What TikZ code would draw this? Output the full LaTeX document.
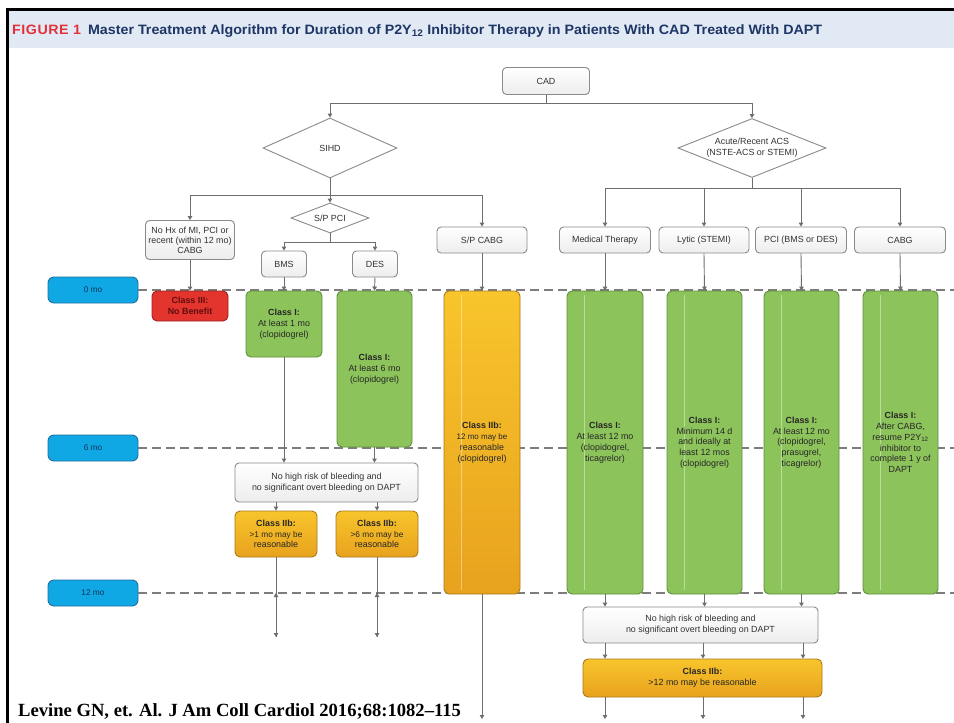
\documentclass[tikz,border=0pt]{standalone}
\usepackage{fontspec}
\setmainfont{Liberation Sans}
\newfontfamily\citefont{Liberation Serif}
\newfontfamily\headfont[FakeStretch=1.05]{Liberation Sans}
\usetikzlibrary{shapes.geometric,arrows.meta}

\definecolor{hdrbg}{HTML}{E1EAF4}
\definecolor{hdrred}{HTML}{E2313B}
\definecolor{hdrnavy}{HTML}{1E3566}
\definecolor{linegray}{HTML}{6E6E6E}
\definecolor{boxedge}{HTML}{8A8A8A}
\definecolor{grfill}{HTML}{8DC35B}
\definecolor{gredge}{HTML}{5F8F3C}
\definecolor{yltop}{HTML}{F8C52C}
\definecolor{ylbot}{HTML}{E8A21E}
\definecolor{yledge}{HTML}{A9791C}
\definecolor{rdfill}{HTML}{E3342E}
\definecolor{rdedge}{HTML}{9A2222}
\definecolor{rdtext}{HTML}{5E0E0E}
\definecolor{pillfill}{HTML}{10A8E4}
\definecolor{pilledge}{HTML}{1F6E9E}
\definecolor{pilltext}{HTML}{0E3557}

\begin{document}
\begin{tikzpicture}[x=1pt,y=-1pt,
  every node/.style={font=\fontsize{8.9}{10.8}\selectfont, align=center, inner sep=1pt},
  wbox/.style={draw=boxedge, line width=0.9pt, rounded corners=4pt,
    top color=white, bottom color=black!7, text=black!80},
  choice/.style={diamond, draw=boxedge, line width=0.9pt, fill=white,
    inner sep=0pt, text=black!80},
  gbox/.style={draw=gredge, line width=0.9pt, rounded corners=5pt, fill=grfill, text=black!85},
  ybox/.style={draw=yledge, line width=0.9pt, rounded corners=5pt,
    top color=yltop, bottom color=ylbot, text=black!85},
  rbox/.style={draw=rdedge, line width=0.9pt, rounded corners=5pt, fill=rdfill,
    text=rdtext, font=\fontsize{8.9}{10.4}\selectfont\bfseries},
  pill/.style={draw=pilledge, line width=0.9pt, rounded corners=6pt, fill=pillfill,
    text=pilltext, minimum width=90pt, minimum height=26pt, font=\fontsize{8.3}{10}\selectfont},
  conn/.style={draw=linegray, line width=0.9pt},
  arr/.style={conn, -{Triangle[width=4.5pt,length=4pt]}},
  timeline/.style={draw=linegray!90, line width=1.3pt, dash pattern=on 9pt off 5pt},
  streak/.style={path picture={\draw[draw=white, opacity=0.4, line width=0.7pt]
    ([xshift=17pt,yshift=-4pt]path picture bounding box.north west) --
    ([xshift=17pt,yshift=4pt]path picture bounding box.south west);}}
]
\useasboundingbox (0,0) rectangle (954,723);
\fill[white] (0,0) rectangle (954,723);

% header band and frame
\fill[hdrbg] (9,11) rectangle (954,48);
\fill[black] (6,8) rectangle (954,11);
\fill[black] (6,8) rectangle (9,723);
\node[anchor=base west, inner sep=0pt, font=\headfont\bfseries\fontsize{13.6}{14}\selectfont] (title) at (12,34)
  {\textcolor{hdrred}{F\kern0.5pt I\kern0.5pt G\kern0.5pt U\kern0.5pt R\kern0.5pt E\kern0.5pt\ 1}\hspace{7pt}\textcolor{hdrnavy}{Master Treatment Algorithm for Duration of P2Y\textsubscript{12} Inhibitor Therapy in Patients With CAD Treated With DAPT}};

% time axis
\node[pill] (t0) at (93,290) {0 mo};
\node[pill] (t6) at (93,448) {6 mo};
\node[pill] (t12) at (93,593) {12 mo};
\coordinate (t0end) at (954,290);
\coordinate (t6end) at (954,448);
\coordinate (t12end) at (954,593);
\draw[timeline] (t0.east) -- (t0end);
\draw[timeline] (t6.east) -- (t6end);
\draw[timeline] (t12.east) -- (t12end);

% decision tree
\node[wbox, minimum width=87pt, minimum height=27pt] (cad) at (546,81) {CAD};
\node[choice, aspect=2.2, minimum width=134pt, minimum height=60pt] (sihd) at (330,148) {SIHD};
\node[choice, aspect=2.6, minimum width=148pt, minimum height=59pt] (acs) at (752,148) {Acute/Recent ACS\\(NSTE-ACS or STEMI)};
\node[choice, aspect=2.6, minimum width=78pt, minimum height=30pt] (sppci) at (330,218) {S/P PCI};
\node[wbox, minimum width=89pt, minimum height=39pt, inner sep=0pt, font=\fontsize{8.9}{10}\selectfont] (nohx) at (190,240) {No Hx of MI, PCI or\\recent (within 12 mo)\\CABG};
\node[wbox, minimum width=90pt, minimum height=26pt] (spcabg) at (482,240) {S/P CABG};
\node[wbox, minimum width=45pt, minimum height=26pt] (bms) at (284,264) {BMS};
\node[wbox, minimum width=45pt, minimum height=26pt] (des) at (375,264) {DES};
\node[wbox, minimum width=91pt, minimum height=26pt] (med) at (605,240) {Medical Therapy};
\node[wbox, minimum width=90pt, minimum height=26pt] (lytic) at (704,240) {Lytic (STEMI)};
\node[wbox, minimum width=91pt, minimum height=26pt] (pci) at (801,240) {PCI (BMS or DES)};
\node[wbox, minimum width=91pt, minimum height=26pt] (cabg) at (900,240) {CABG};

\coordinate (j0) at (546,103);
\coordinate (j1) at (330,195);
\coordinate (j2) at (330,242);
\coordinate (j3) at (752,188);
\draw[conn] (cad.south) -- (j0);
\draw[arr] (j0) -| (sihd.north);
\draw[arr] (j0) -| (acs.north);
\draw[conn] (sihd.south) -- (j1);
\draw[arr] (j1) -| (nohx.north);
\draw[arr] (j1) -- (sppci.north);
\draw[arr] (j1) -| (spcabg.north);
\draw[conn] (sppci.south) -- (j2);
\draw[arr] (j2) -| (bms.north);
\draw[arr] (j2) -| (des.north);
\draw[conn] (acs.south) -- (j3);
\draw[arr] (j3) -| (med.north);
\draw[arr] (j3) -| (lytic.north);
\draw[arr] (j3) -| (pci.north);
\draw[arr] (j3) -| (cabg.north);

% recommendation boxes
\node[rbox, minimum width=76pt, minimum height=30pt] (c3) at (190,306) {Class III:\\No Benefit};
\node[gbox, minimum width=76pt, minimum height=66pt] (gbms) at (284,324) {\textbf{Class I:}\\At least 1 mo\\(clopidogrel)};
\node[gbox, minimum width=75pt, minimum height=156pt] (gdes) at (374.5,369) {\textbf{Class I:}\\At least 6 mo\\(clopidogrel)};
\node[ybox, streak, minimum width=76pt, minimum height=303pt] (ycabg) at (482,442.5) {\textbf{Class IIb:}\\\fontsize{8}{9.6}\selectfont 12 mo may be\\reasonable\\(clopidogrel)};
\node[gbox, streak, minimum width=76pt, minimum height=303pt] (gmed) at (605,442.5) {\textbf{Class I:}\\At least 12 mo\\(clopidogrel,\\ticagrelor)};
\node[gbox, streak, minimum width=75pt, minimum height=303pt] (glytic) at (704.5,442.5) {\textbf{Class I:}\\Minimum 14 d\\and ideally at\\least 12 mos\\(clopidogrel)};
\node[gbox, streak, minimum width=75pt, minimum height=303pt] (gpci) at (801.5,442.5) {\textbf{Class I:}\\At least 12 mo\\(clopidogrel,\\prasugrel,\\ticagrelor)};
\node[gbox, streak, minimum width=75pt, minimum height=303pt] (gcabg) at (900.5,442.5) {\textbf{Class I:}\\After CABG,\\resume P2Y\textsubscript{12}\\inhibitor to\\complete 1 y of\\DAPT};

\draw[arr] (nohx.south) -- (c3.north);
\draw[arr] (bms.south) -- (gbms.north);
\draw[arr] (des.south) -- (gdes.north);
\draw[arr] (spcabg.south) -- (ycabg.north);
\draw[arr] (med.south) -- (gmed.north);
\draw[arr] (lytic.south) -- (glytic.north);
\draw[arr] (pci.south) -- (gpci.north);
\draw[arr] (cabg.south) -- (gcabg.north);

% SIHD continuation after PCI
\node[wbox, minimum width=183pt, minimum height=39pt] (bleed1) at (326.5,482.5) {No high risk of bleeding and\\no significant overt bleeding on DAPT};
\node[ybox, minimum width=82pt, minimum height=46pt] (iib1) at (276,534) {\textbf{Class IIb:}\\\fontsize{8.3}{10}\selectfont >1 mo may be\\reasonable};
\node[ybox, minimum width=82pt, minimum height=46pt] (iib2) at (377,534) {\textbf{Class IIb:}\\\fontsize{8.3}{10}\selectfont >6 mo may be\\reasonable};
\draw[arr] (gbms.south) -- (gbms.south |- bleed1.north);
\draw[arr] (gdes.south) -- (gdes.south |- bleed1.north);
\draw[arr] (iib1.north |- bleed1.south) -- (iib1.north);
\draw[arr] (iib2.north |- bleed1.south) -- (iib2.north);
\coordinate (e1) at (276,637);
\coordinate (e2) at (377,637);
\draw[arr] (iib1.south) -- (e1);
\draw[arr] (iib2.south) -- (e2);
\draw[arr] (e1) -- (iib1.south |- t12.east);
\draw[arr] (e2) -- (iib2.south |- t12.east);

% ACS continuation
\node[wbox, minimum width=235pt, minimum height=36pt] (bleed2) at (700.5,625) {No high risk of bleeding and\\no significant overt bleeding on DAPT};
\node[ybox, minimum width=239pt, minimum height=38pt] (iib3) at (702.5,678) {\textbf{Class IIb:}\\>12 mo may be reasonable};
\draw[arr] (gmed.south) -- (gmed.south |- bleed2.north);
\draw[arr] (glytic.south) -- (glytic.south |- bleed2.north);
\draw[arr] (gpci.south) -- (gpci.south |- bleed2.north);
\coordinate (e3) at (605,719);
\coordinate (e4) at (703,719);
\coordinate (e5) at (803,719);
\coordinate (e6) at (482,719);
\draw[arr] (e3 |- bleed2.south) -- (e3 |- iib3.north);
\draw[arr] (e4 |- bleed2.south) -- (e4 |- iib3.north);
\draw[arr] (e5 |- bleed2.south) -- (e5 |- iib3.north);
\draw[arr] (e3 |- iib3.south) -- (e3);
\draw[arr] (e4 |- iib3.south) -- (e4);
\draw[arr] (e5 |- iib3.south) -- (e5);
\draw[arr] (ycabg.south) -- (e6);

% citation
\node[anchor=base west, inner sep=0pt, font=\citefont\bfseries\fontsize{18.6}{19}\selectfont] (cite) at (18,716)
  {Levine GN, et. Al. J Am Coll Cardiol 2016;68:1082–115};
\end{tikzpicture}
\end{document}
